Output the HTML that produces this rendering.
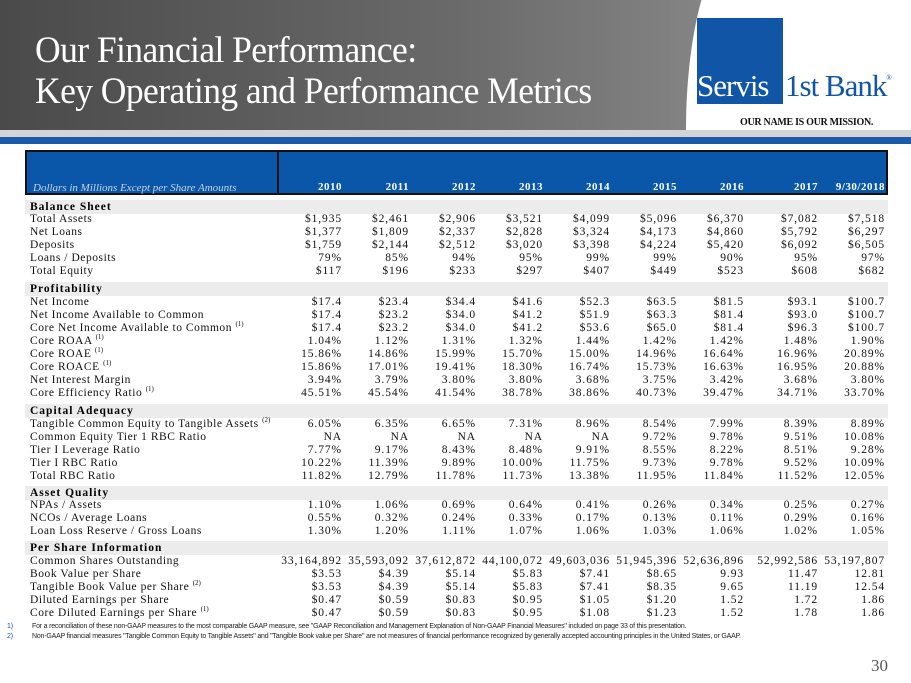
<!DOCTYPE html>
<html><head><meta charset="utf-8"><style>
*{margin:0;padding:0}
body{width:911px;height:683px;position:relative;overflow:hidden;background:#fff;font-family:"Liberation Serif",serif;}
#hdr{position:absolute;left:0;top:0;width:911px;height:130px;background:linear-gradient(90deg,#4a4a4a 0%,#6a6a6a 50%,#9a9a9a 100%);}
#logo{position:absolute;left:686px;top:-60px;width:400px;height:190px;background:#fff;border-radius:60px 0 0 0/200px 0 0 0;}
.t{position:absolute;color:#fff;font-size:37px;left:35px;white-space:nowrap;letter-spacing:-0.6px;transform:scaleX(0.96);transform-origin:0 0}
#s1{position:absolute;left:0;top:130px;width:911px;height:7px;background:#d4d4d4}
#s2{position:absolute;left:0;top:137px;width:911px;height:7px;background:#1a5aa8}
#th{position:absolute;left:25px;top:150px;width:859px;height:41px;background:#0a56a8;border:2px solid #111}
#thd{position:absolute;left:277px;top:150px;width:2px;height:45px;background:#111}
.r{position:absolute;left:0;width:911px;height:13px;font-size:11.5px;line-height:13px;color:#111;white-space:nowrap}
.r .l{position:absolute;left:30px;letter-spacing:0.55px}
.r span:not(.l){position:absolute;letter-spacing:0.9px}
.c1{right:569px}.c2{right:502px}.c3{right:435px}.c4{right:368px}.c5{right:301px}.c6{right:234px}.c7{right:167px}.c8{right:93px}.c9{right:26px}
.sec{position:absolute;left:25px;width:863px;height:14px;background:#ececec;font-weight:bold;font-size:11.5px;line-height:14px;letter-spacing:1px;padding-left:5px;box-sizing:border-box}
sup{font-size:7px;vertical-align:baseline;position:relative;top:-5px;letter-spacing:0;line-height:0}
.yh{position:absolute;top:181px;color:#fff;font-weight:bold;font-size:11px;letter-spacing:0.5px}
.fn{position:absolute;font-family:"Liberation Sans Narrow","Liberation Sans",sans-serif;font-size:7px;color:#222;white-space:nowrap;letter-spacing:-0.2px}
</style></head><body>
<div id="hdr"></div>
<div id="logo"></div>
<div class="t" style="top:29px">Our Financial Performance:</div>
<div class="t" style="top:70px">Key Operating and Performance Metrics</div>
<div style="position:absolute;left:697px;top:18px;width:86px;height:86px;background:#1155a6"></div>
<div style="position:absolute;left:697px;top:68px;font-size:31px;color:#fff;letter-spacing:-1px">Servis</div>
<div style="position:absolute;left:785px;top:68px;font-size:31px;color:#1155a6;letter-spacing:-1px">1st Bank<sup style="font-size:7px;top:-16px">®</sup></div>
<div style="position:absolute;left:740px;top:117px;font-size:10px;font-weight:bold;color:#111;letter-spacing:-0.3px">OUR NAME IS OUR MISSION.</div>
<div id="s1"></div><div id="s2"></div>
<div id="th"></div><div id="thd"></div>
<div style="position:absolute;left:33px;top:182px;font-size:11px;font-style:italic;color:#c7d3e8">Dollars in Millions Except per Share Amounts</div>
<div class="yh" style="right:569px">2010</div><div class="yh" style="right:502px">2011</div><div class="yh" style="right:435px">2012</div><div class="yh" style="right:368px">2013</div><div class="yh" style="right:301px">2014</div><div class="yh" style="right:234px">2015</div><div class="yh" style="right:167px">2016</div><div class="yh" style="right:93px">2017</div><div class="yh" style="right:26px">9/30/2018</div>

<div class="sec" style="top:200px">Balance Sheet</div>
<div class="r" style="top:213px"><span class="l">Total Assets</span><span class="c1">$1,935</span><span class="c2">$2,461</span><span class="c3">$2,906</span><span class="c4">$3,521</span><span class="c5">$4,099</span><span class="c6">$5,096</span><span class="c7">$6,370</span><span class="c8">$7,082</span><span class="c9">$7,518</span></div>
<div class="r" style="top:226px"><span class="l">Net Loans</span><span class="c1">$1,377</span><span class="c2">$1,809</span><span class="c3">$2,337</span><span class="c4">$2,828</span><span class="c5">$3,324</span><span class="c6">$4,173</span><span class="c7">$4,860</span><span class="c8">$5,792</span><span class="c9">$6,297</span></div>
<div class="r" style="top:239px"><span class="l">Deposits</span><span class="c1">$1,759</span><span class="c2">$2,144</span><span class="c3">$2,512</span><span class="c4">$3,020</span><span class="c5">$3,398</span><span class="c6">$4,224</span><span class="c7">$5,420</span><span class="c8">$6,092</span><span class="c9">$6,505</span></div>
<div class="r" style="top:252px"><span class="l">Loans / Deposits</span><span class="c1">79%</span><span class="c2">85%</span><span class="c3">94%</span><span class="c4">95%</span><span class="c5">99%</span><span class="c6">99%</span><span class="c7">90%</span><span class="c8">95%</span><span class="c9">97%</span></div>
<div class="r" style="top:265px"><span class="l">Total Equity</span><span class="c1">$117</span><span class="c2">$196</span><span class="c3">$233</span><span class="c4">$297</span><span class="c5">$407</span><span class="c6">$449</span><span class="c7">$523</span><span class="c8">$608</span><span class="c9">$682</span></div>

<div class="sec" style="top:282px">Profitability</div>
<div class="r" style="top:296px"><span class="l">Net Income</span><span class="c1">$17.4</span><span class="c2">$23.4</span><span class="c3">$34.4</span><span class="c4">$41.6</span><span class="c5">$52.3</span><span class="c6">$63.5</span><span class="c7">$81.5</span><span class="c8">$93.1</span><span class="c9">$100.7</span></div>
<div class="r" style="top:309px"><span class="l">Net Income Available to Common</span><span class="c1">$17.4</span><span class="c2">$23.2</span><span class="c3">$34.0</span><span class="c4">$41.2</span><span class="c5">$51.9</span><span class="c6">$63.3</span><span class="c7">$81.4</span><span class="c8">$93.0</span><span class="c9">$100.7</span></div>
<div class="r" style="top:322px"><span class="l">Core Net Income Available to Common <sup>(1)</sup></span><span class="c1">$17.4</span><span class="c2">$23.2</span><span class="c3">$34.0</span><span class="c4">$41.2</span><span class="c5">$53.6</span><span class="c6">$65.0</span><span class="c7">$81.4</span><span class="c8">$96.3</span><span class="c9">$100.7</span></div>
<div class="r" style="top:335px"><span class="l">Core ROAA <sup>(1)</sup></span><span class="c1">1.04%</span><span class="c2">1.12%</span><span class="c3">1.31%</span><span class="c4">1.32%</span><span class="c5">1.44%</span><span class="c6">1.42%</span><span class="c7">1.42%</span><span class="c8">1.48%</span><span class="c9">1.90%</span></div>
<div class="r" style="top:348px"><span class="l">Core ROAE <sup>(1)</sup></span><span class="c1">15.86%</span><span class="c2">14.86%</span><span class="c3">15.99%</span><span class="c4">15.70%</span><span class="c5">15.00%</span><span class="c6">14.96%</span><span class="c7">16.64%</span><span class="c8">16.96%</span><span class="c9">20.89%</span></div>
<div class="r" style="top:361px"><span class="l">Core ROACE <sup>(1)</sup></span><span class="c1">15.86%</span><span class="c2">17.01%</span><span class="c3">19.41%</span><span class="c4">18.30%</span><span class="c5">16.74%</span><span class="c6">15.73%</span><span class="c7">16.63%</span><span class="c8">16.95%</span><span class="c9">20.88%</span></div>
<div class="r" style="top:374px"><span class="l">Net Interest Margin</span><span class="c1">3.94%</span><span class="c2">3.79%</span><span class="c3">3.80%</span><span class="c4">3.80%</span><span class="c5">3.68%</span><span class="c6">3.75%</span><span class="c7">3.42%</span><span class="c8">3.68%</span><span class="c9">3.80%</span></div>
<div class="r" style="top:387px"><span class="l">Core Efficiency Ratio <sup>(1)</sup></span><span class="c1">45.51%</span><span class="c2">45.54%</span><span class="c3">41.54%</span><span class="c4">38.78%</span><span class="c5">38.86%</span><span class="c6">40.73%</span><span class="c7">39.47%</span><span class="c8">34.71%</span><span class="c9">33.70%</span></div>

<div class="sec" style="top:404px">Capital Adequacy</div>
<div class="r" style="top:418px"><span class="l">Tangible Common Equity to Tangible Assets <sup>(2)</sup></span><span class="c1">6.05%</span><span class="c2">6.35%</span><span class="c3">6.65%</span><span class="c4">7.31%</span><span class="c5">8.96%</span><span class="c6">8.54%</span><span class="c7">7.99%</span><span class="c8">8.39%</span><span class="c9">8.89%</span></div>
<div class="r" style="top:431px"><span class="l">Common Equity Tier 1 RBC Ratio</span><span class="c1">NA</span><span class="c2">NA</span><span class="c3">NA</span><span class="c4">NA</span><span class="c5">NA</span><span class="c6">9.72%</span><span class="c7">9.78%</span><span class="c8">9.51%</span><span class="c9">10.08%</span></div>
<div class="r" style="top:444px"><span class="l">Tier I Leverage Ratio</span><span class="c1">7.77%</span><span class="c2">9.17%</span><span class="c3">8.43%</span><span class="c4">8.48%</span><span class="c5">9.91%</span><span class="c6">8.55%</span><span class="c7">8.22%</span><span class="c8">8.51%</span><span class="c9">9.28%</span></div>
<div class="r" style="top:457px"><span class="l">Tier I RBC Ratio</span><span class="c1">10.22%</span><span class="c2">11.39%</span><span class="c3">9.89%</span><span class="c4">10.00%</span><span class="c5">11.75%</span><span class="c6">9.73%</span><span class="c7">9.78%</span><span class="c8">9.52%</span><span class="c9">10.09%</span></div>
<div class="r" style="top:470px"><span class="l">Total RBC Ratio</span><span class="c1">11.82%</span><span class="c2">12.79%</span><span class="c3">11.78%</span><span class="c4">11.73%</span><span class="c5">13.38%</span><span class="c6">11.95%</span><span class="c7">11.84%</span><span class="c8">11.52%</span><span class="c9">12.05%</span></div>

<div class="sec" style="top:486px">Asset Quality</div>
<div class="r" style="top:499px"><span class="l">NPAs / Assets</span><span class="c1">1.10%</span><span class="c2">1.06%</span><span class="c3">0.69%</span><span class="c4">0.64%</span><span class="c5">0.41%</span><span class="c6">0.26%</span><span class="c7">0.34%</span><span class="c8">0.25%</span><span class="c9">0.27%</span></div>
<div class="r" style="top:512px"><span class="l">NCOs / Average Loans</span><span class="c1">0.55%</span><span class="c2">0.32%</span><span class="c3">0.24%</span><span class="c4">0.33%</span><span class="c5">0.17%</span><span class="c6">0.13%</span><span class="c7">0.11%</span><span class="c8">0.29%</span><span class="c9">0.16%</span></div>
<div class="r" style="top:525px"><span class="l">Loan Loss Reserve / Gross Loans</span><span class="c1">1.30%</span><span class="c2">1.20%</span><span class="c3">1.11%</span><span class="c4">1.07%</span><span class="c5">1.06%</span><span class="c6">1.03%</span><span class="c7">1.06%</span><span class="c8">1.02%</span><span class="c9">1.05%</span></div>

<div class="sec" style="top:541px">Per Share Information</div>
<div class="r" style="top:555px"><span class="l">Common Shares Outstanding</span><span class="c1">33,164,892</span><span class="c2">35,593,092</span><span class="c3">37,612,872</span><span class="c4">44,100,072</span><span class="c5">49,603,036</span><span class="c6">51,945,396</span><span class="c7">52,636,896</span><span class="c8">52,992,586</span><span class="c9">53,197,807</span></div>
<div class="r" style="top:568px"><span class="l">Book Value per Share</span><span class="c1">$3.53</span><span class="c2">$4.39</span><span class="c3">$5.14</span><span class="c4">$5.83</span><span class="c5">$7.41</span><span class="c6">$8.65</span><span class="c7">9.93</span><span class="c8">11.47</span><span class="c9">12.81</span></div>
<div class="r" style="top:581px"><span class="l">Tangible Book Value per Share <sup>(2)</sup></span><span class="c1">$3.53</span><span class="c2">$4.39</span><span class="c3">$5.14</span><span class="c4">$5.83</span><span class="c5">$7.41</span><span class="c6">$8.35</span><span class="c7">9.65</span><span class="c8">11.19</span><span class="c9">12.54</span></div>
<div class="r" style="top:594px"><span class="l">Diluted Earnings per Share</span><span class="c1">$0.47</span><span class="c2">$0.59</span><span class="c3">$0.83</span><span class="c4">$0.95</span><span class="c5">$1.05</span><span class="c6">$1.20</span><span class="c7">1.52</span><span class="c8">1.72</span><span class="c9">1.86</span></div>
<div class="r" style="top:607px"><span class="l">Core Diluted Earnings per Share <sup>(1)</sup></span><span class="c1">$0.47</span><span class="c2">$0.59</span><span class="c3">$0.83</span><span class="c4">$0.95</span><span class="c5">$1.08</span><span class="c6">$1.23</span><span class="c7">1.52</span><span class="c8">1.78</span><span class="c9">1.86</span></div>

<div class="fn" style="left:7px;top:623px;color:#1a5aa8">1)</div>
<div class="fn" style="left:32px;top:623px">For a reconciliation of these non-GAAP measures to the most comparable GAAP measure, see "GAAP Reconciliation and Management Explanation of Non-GAAP Financial Measures" included on page 33 of this presentation.</div>
<div class="fn" style="left:7px;top:633px;color:#1a5aa8">2)</div>
<div class="fn" style="left:32px;top:633px">Non-GAAP financial measures "Tangible Common Equity to Tangible Assets" and "Tangible Book value per Share" are not measures of financial performance recognized by generally accepted accounting principles in the United States, or GAAP.</div>
<div style="position:absolute;left:871px;top:656px;font-size:17px;color:#555">30</div>
</body></html>
